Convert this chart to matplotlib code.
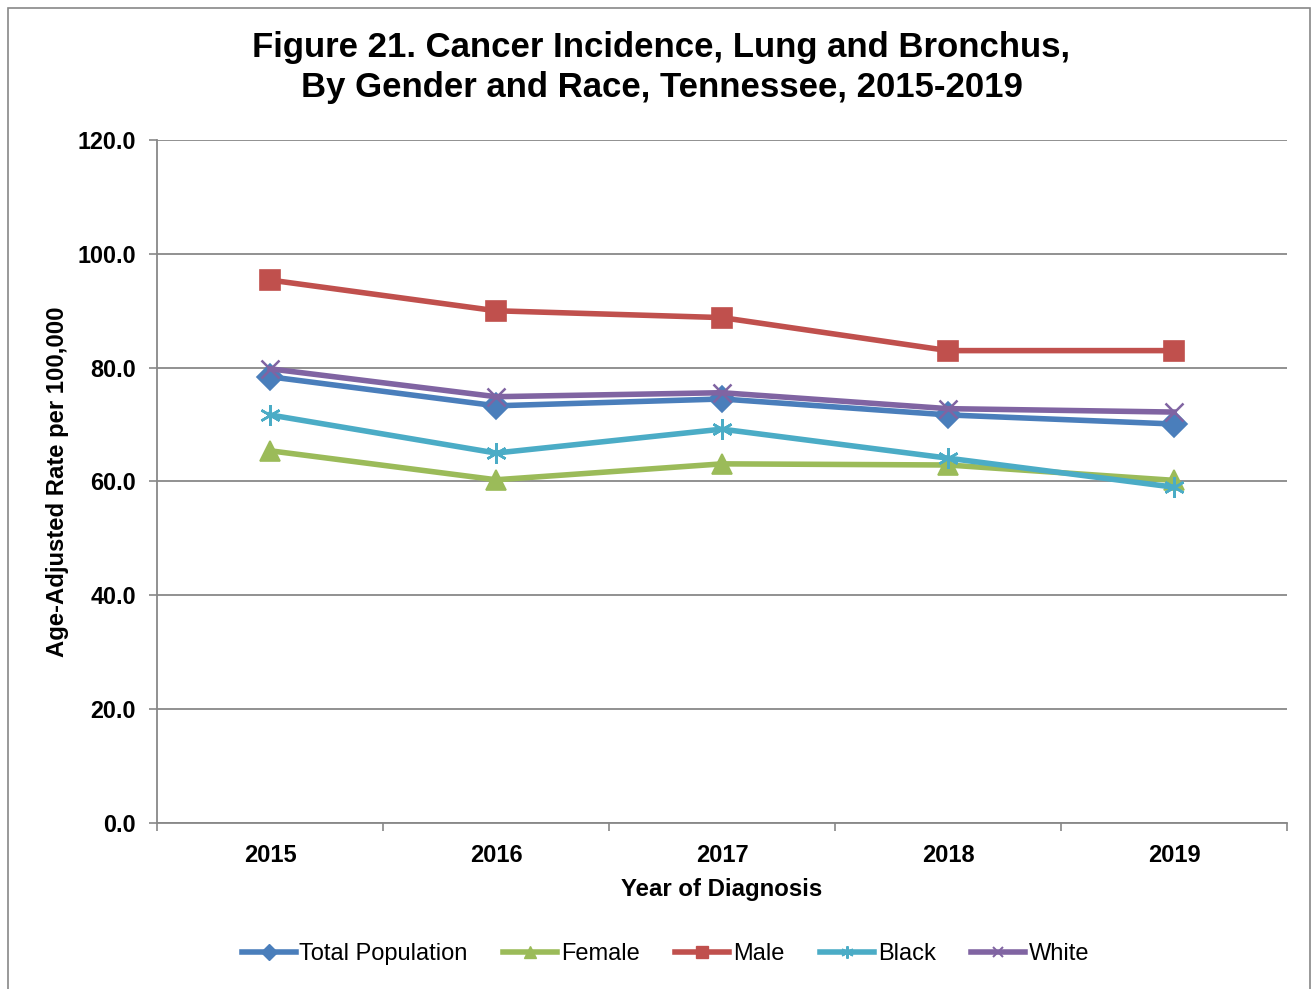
import matplotlib
matplotlib.use("Agg")
import matplotlib.pyplot as plt
from matplotlib.lines import Line2D
from matplotlib.patches import Rectangle

years = ["2015", "2016", "2017", "2018", "2019"]
total_population = [78.4, 73.3, 74.5, 71.7, 70.1]
female = [65.4, 60.3, 63.1, 62.9, 60.2]
male = [95.4, 90.0, 88.8, 83.0, 83.0]
black = [71.7, 65.0, 69.2, 64.1, 59.0]
white = [79.8, 74.9, 75.6, 72.8, 72.2]

series = [
    ("Total Population", total_population, "#4A7EBB", "D", 13, 1.2),
    ("Female", female, "#9BBB59", "^", 14, 1.2),
    ("Male", male, "#C0504D", "s", 14, 1.2),
    ("Black", black, "#4BACC6", (6, 2, 0), 15, 1.8),
    ("White", white, "#8064A2", "x", 13, 1.8),
]

plt.rcParams["font.family"] = ["Liberation Sans", "DejaVu Sans"]

fig = plt.figure(figsize=(13.15, 9.89), dpi=100)
ax = fig.add_axes([0.1194, 0.1679, 0.8593, 0.6905])

x = list(range(len(years)))
handles = []
for name, vals, color, marker, ms, mew in series:
    ax.plot(x, vals, color=color, lw=4.0, marker=marker, markersize=ms,
            markerfacecolor=color, markeredgecolor=color, markeredgewidth=mew,
            solid_joinstyle="round", zorder=3)
    handles.append(Line2D([], [], color=color, lw=4.0, marker=marker,
                          markersize=ms * 0.6, markerfacecolor=color,
                          markeredgecolor=color, markeredgewidth=mew * 0.8))

ax.set_xlim(-0.5, len(years) - 0.5)
ax.set_ylim(0, 120)
ax.set_yticks(range(0, 121, 20))
ax.set_yticklabels([f"{v:.1f}" for v in range(0, 121, 20)],
                   fontsize=16.8, fontweight="bold")
ax.set_xticks(x)
ax.set_xticklabels(years, fontsize=17, fontweight="bold")
ax.set_xticks([i - 0.5 for i in range(len(years) + 1)], minor=True)
ax.tick_params(axis="x", which="major", length=0, pad=15)
ax.tick_params(axis="x", which="minor", length=6, color="#888888", width=1.2)
ax.tick_params(axis="y", length=6, color="#888888", width=1.2, pad=9)

ax.grid(axis="y", color="#888888", lw=1.3)
ax.set_axisbelow(True)
for side in ("top", "right"):
    ax.spines[side].set_visible(False)
for side in ("left", "bottom"):
    ax.spines[side].set_color("#888888")
    ax.spines[side].set_linewidth(1.3)

ax.set_xlabel("Year of Diagnosis", fontsize=17.3, fontweight="bold", labelpad=8)
ax.set_ylabel("Age-Adjusted Rate per 100,000", fontsize=17.2,
              fontweight="bold", labelpad=6)

fig.text(0.503, 0.9515, "Figure 21. Cancer Incidence, Lung and Bronchus,",
         ha="center", va="center", fontsize=25, fontweight="bold")
fig.text(0.503, 0.912, "By Gender and Race, Tennessee, 2015-2019",
         ha="center", va="center", fontsize=25, fontweight="bold")

fig.legend(handles, [s[0] for s in series], loc="center",
           bbox_to_anchor=(0.506, 0.035), ncol=5, frameon=False,
           fontsize=17, handlelength=2.3, handletextpad=0.15,
           columnspacing=1.5)

fig.patches.append(Rectangle((0.006, -0.01), 0.99, 1.002,
                             transform=fig.transFigure, fill=False,
                             edgecolor="#888888", lw=1.2))

fig.savefig("out.png", dpi=100)
